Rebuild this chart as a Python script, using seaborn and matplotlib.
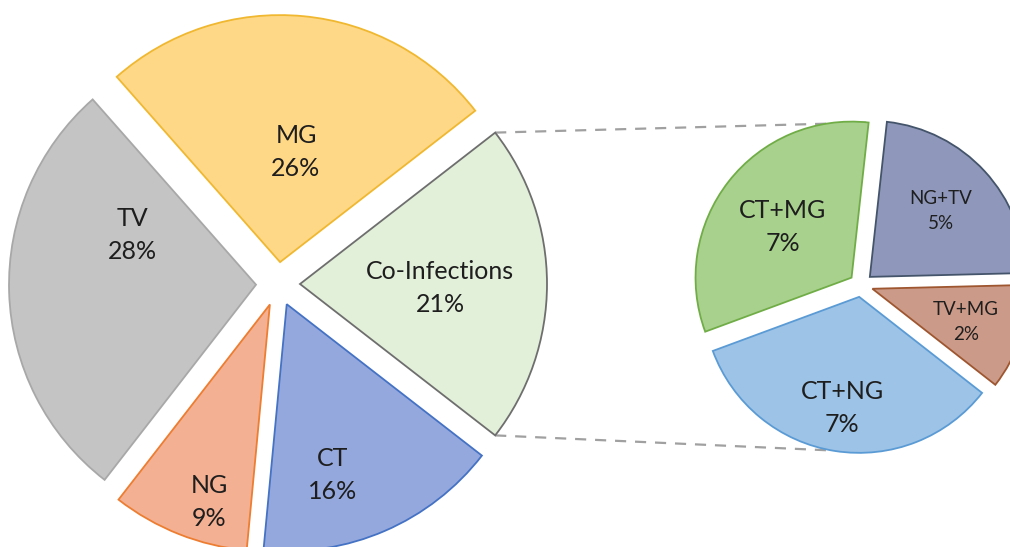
import numpy as np
import matplotlib
matplotlib.use("Agg")
import matplotlib.pyplot as plt
import seaborn as sns

# main pie
main_labels = ["Co-Infections", "MG", "TV", "NG", "CT"]
main_values = [21, 26, 28, 9, 16]
main_fill = ["#E2EFD9", "#FFD887", "#C4C4C4", "#F4B092", "#95A8DD"]
main_edge = ["#6E6E6E", "#F0B830", "#A8A8A8", "#ED7D31", "#4472C4"]

# breakdown of co-infections
sub_labels = ["TV+MG", "NG+TV", "CT+MG", "CT+NG"]
sub_values = [2.3, 4.8, 6.8, 7.1]
sub_pct = ["2%", "5%", "7%", "7%"]
sub_fill = ["#CC9A88", "#8F98BA", "#A9D18E", "#9DC3E6"]
sub_edge = ["#9E5630", "#44546A", "#70AD47", "#5B9BD5"]

W, H = 1010, 547

# label anchors in pixel coords (x, y from top)
main_text_pos = {"Co-Infections": (440, 288), "MG": (296, 152), "TV": (132, 235),
                 "NG": (209, 502), "CT": (333, 475)}
sub_text_pos = {"TV+MG": (966, 322), "NG+TV": (941, 211), "CT+MG": (783, 227),
                "CT+NG": (842, 408)}

sns.set_style("white")
plt.rcParams["font.family"] = ["Lato", "DejaVu Sans"]

fig = plt.figure(figsize=(W / 100, H / 100), dpi=100)
ax = fig.add_axes([0, 0, 1, 1])

main_wedges, _ = ax.pie(main_values, explode=[22] * 5, colors=main_fill,
                        startangle=-main_values[0] / sum(main_values) * 180,
                        radius=247, center=(278, H - 284),
                        wedgeprops=dict(linewidth=1.3))
for w, ec in zip(main_wedges, main_edge):
    w.set_edgecolor(ec)

sub_wedges, _ = ax.pie(sub_values, explode=[12] * 4, colors=sub_fill,
                       startangle=-38, radius=156, center=(861, H - 285),
                       wedgeprops=dict(linewidth=1.3))
for w, ec in zip(sub_wedges, sub_edge):
    w.set_edgecolor(ec)

# dashed connectors from co-infections slice to the breakdown pie
co = main_wedges[0]
def arc_point(w, ang):
    a = np.deg2rad(ang)
    return w.center[0] + w.r * np.cos(a), w.center[1] + w.r * np.sin(a)

p1 = arc_point(co, co.theta2)
p2 = arc_point(co, co.theta1)
q1 = arc_point(sub_wedges[2], sub_wedges[2].theta1)
q2 = arc_point(sub_wedges[3], 260)
for a, b in [(p1, q1), (p2, q2)]:
    ax.plot([a[0], b[0]], [a[1], b[1]], ls=(0, (5, 4)), color="#A0A0A0",
            lw=1.6, zorder=0)

for lab, val in zip(main_labels, main_values):
    x, y = main_text_pos[lab]
    ax.text(x, H - y, f"{lab}\n{val}%", ha="center", va="center",
            fontsize=18, color="#1E1E1E", linespacing=1.55)

for lab, pct in zip(sub_labels, sub_pct):
    x, y = sub_text_pos[lab]
    fs = 18 if lab.startswith("CT") else 13.5
    ax.text(x, H - y, f"{lab}\n{pct}", ha="center", va="center",
            fontsize=fs, color="#1E1E1E", linespacing=1.55)

ax.set_xlim(0, W)
ax.set_ylim(0, H)
ax.set_aspect("equal")
ax.axis("off")
fig.savefig("out.png", dpi=100, facecolor="white")
